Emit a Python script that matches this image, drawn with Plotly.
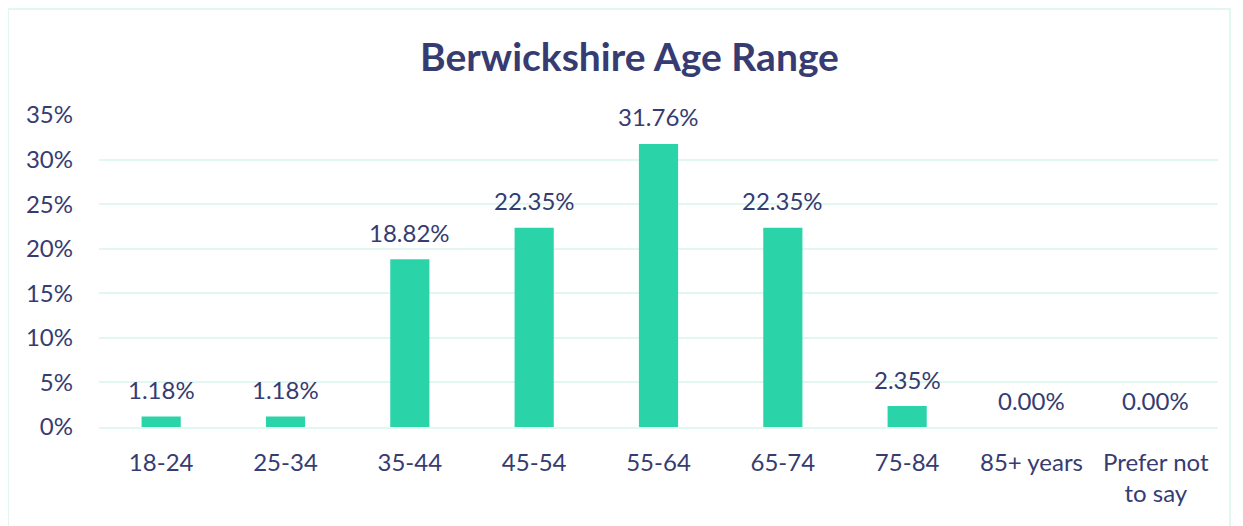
import plotly.graph_objects as go

# data
age_groups = ['18-24', '25-34', '35-44', '45-54', '55-64', '65-74', '75-84', '85+ years', 'Prefer not<br>to say']
share_pct = [1.18, 1.18, 18.82, 22.35, 31.76, 22.35, 2.35, 0.00, 0.00]
y_ticks = [0, 5, 10, 15, 20, 25, 30, 35]

navy = '#363C72'
teal = '#2BD3A8'
grid = '#E2F7F0'

fig = go.Figure()
fig.add_trace(go.Bar(x=age_groups, y=share_pct,
                     marker=dict(color=teal, line=dict(width=0)),
                     width=0.315, hoverinfo='x+y'))

# value labels sit a bit higher above the bars than plotly's outside text
for cat, v in zip(age_groups, share_pct):
    fig.add_annotation(x=cat, y=v, text='%.2f%%' % v, showarrow=False,
                       yanchor='middle', yshift=27,
                       font=dict(size=24, color=navy))

fig.update_layout(width=1243, height=526,
                  margin=dict(l=91, r=33, t=107, b=107),
                  paper_bgcolor='white', plot_bgcolor='white',
                  font=dict(family='Lato', color=navy),
                  title=dict(text='<b>Berwickshire Age Range</b>', x=0.5, xanchor='center',
                             y=0.907, yanchor='middle', font=dict(size=39, color=navy)),
                  showlegend=False)
fig.update_yaxes(range=[0, 35], tickvals=y_ticks, ticktext=['%d%%' % t for t in y_ticks],
                 showgrid=True, gridcolor=grid, gridwidth=2, zeroline=False,
                 tickfont=dict(size=24, color=navy), ticklabelstandoff=25)
fig.update_xaxes(showline=True, linecolor=grid, linewidth=2,
                 tickfont=dict(size=24, color=navy), ticklabelstandoff=13)

# outer border of the chart
fig.add_shape(type='rect', xref='paper', yref='paper',
              x0=-0.0813, x1=1.0107, y0=-0.35, y1=1.3397,
              line=dict(color='#E2F7F0', width=2), fillcolor='rgba(0,0,0,0)', layer='below')

fig.write_html('out.html')
